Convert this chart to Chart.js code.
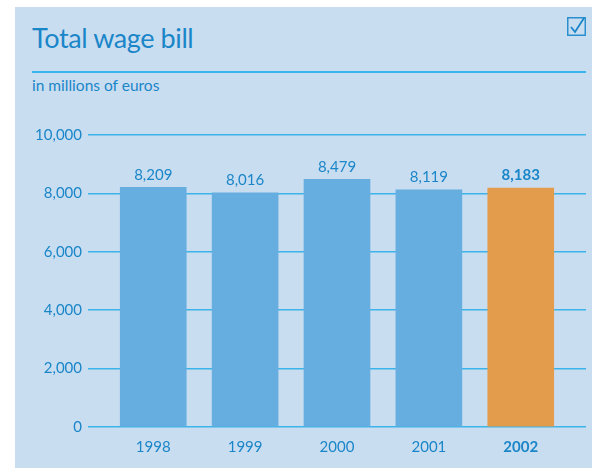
<!DOCTYPE html>
<html>
<head>
<meta charset="utf-8">
<script src="https://cdn.jsdelivr.net/npm/chart.js@4/dist/chart.umd.min.js"></script>
<style>
  html, body { margin: 0; padding: 0; background: #ffffff; }
  body { width: 592px; height: 469px; position: relative; overflow: hidden; font-family: Lato, "Open Sans", sans-serif; }
  #panel { position: absolute; left: 15px; top: 7px; width: 577px; height: 461px; background: #c9ddf1; }
  #title { position: absolute; left: 32px; top: 21px; font-size: 27px; color: #1a86c8; white-space: nowrap; letter-spacing: -0.4px; }
  #rule { position: absolute; left: 32px; top: 71px; width: 554px; height: 2px; background: #38b6ec; }
  #subtitle { position: absolute; left: 32px; top: 76px; font-size: 15.5px; color: #1a86c8; white-space: nowrap; }
  #check { position: absolute; left: 567px; top: 17px; width: 19px; height: 19px; }
  #chartBox { position: absolute; left: 0; top: 0; width: 592px; height: 469px; }
</style>
</head>
<body>
<div id="panel"></div>
<div id="title">Total wage bill</div>
<div id="rule"></div>
<div id="subtitle">in millions of euros</div>
<svg id="check" viewBox="0 0 19 19">
  <rect x="0.75" y="0.75" width="17.5" height="17.5" fill="none" stroke="#2a8fce" stroke-width="1.5"/>
  <path d="M4 10 L8 15 L17 1" fill="none" stroke="#1a86c8" stroke-width="1.8"/>
</svg>
<div id="chartBox"><canvas id="chart" width="592" height="469"></canvas></div>
<script>
// Total wage bill, millions of euros
const years = ['1998', '1999', '2000', '2001', '2002'];
const wages = [8209, 8016, 8479, 8119, 8183];
const highlightYear = '2002';
const yTicks = [0, 2000, 4000, 6000, 8000, 10000];

const textBlue = '#1a86c8';
const barBlue = '#67aee0';
const barOrange = '#e39c4b';
const gridBlue = '#3cb4ea';

const fmt = v => v.toLocaleString('en-US');
const isHighlight = i => years[i] === highlightYear;

// Value labels above each bar, taken from the bar's own data
const valueLabels = {
  id: 'valueLabels',
  afterDatasetsDraw(chart) {
    const ctx = chart.ctx;
    const meta = chart.getDatasetMeta(0);
    ctx.save();
    ctx.textAlign = 'center';
    ctx.textBaseline = 'bottom';
    ctx.fillStyle = textBlue;
    meta.data.forEach((bar, i) => {
      ctx.font = (isHighlight(i) ? 'bold ' : '') + '15px Lato, "Open Sans", sans-serif';
      ctx.fillText(fmt(wages[i]), bar.x, bar.y - 5);
    });
    ctx.restore();
  }
};

new Chart(document.getElementById('chart'), {
  type: 'bar',
  data: {
    datasets: [{
      data: years.map((y, i) => ({ x: i, y: wages[i] })),
      backgroundColor: years.map((y, i) => isHighlight(i) ? barOrange : barBlue),
      borderWidth: 0,
      barThickness: 66
    }]
  },
  options: {
    responsive: false,
    animation: false,
    devicePixelRatio: 1,
    layout: { padding: { left: 0, right: 6, top: 135, bottom: 0 } },
    plugins: { legend: { display: false }, tooltip: { enabled: false }, title: { display: false } },
    scales: {
      x: {
        type: 'linear',
        offset: false,
        min: -0.71,
        max: 4.71,
        grid: { display: false, offset: false },
        border: { display: false },
        afterBuildTicks: scale => { scale.ticks = years.map((y, i) => ({ value: i })); },
        afterFit: scale => { scale.height = 42; },
        ticks: {
          padding: 3,
          color: textBlue,
          font: ctx => ({ family: 'Lato, "Open Sans", sans-serif', size: 15, weight: (ctx.tick && isHighlight(ctx.tick.value)) ? 'bold' : 'normal' }),
          callback: v => years[v]
        }
      },
      y: {
        min: 0,
        max: 10000,
        afterBuildTicks: scale => { scale.ticks = yTicks.map(v => ({ value: v })); },
        afterFit: scale => { scale.width = 88; },
        grid: { color: gridBlue, lineWidth: 1.5, drawTicks: false },
        border: { display: false },
        ticks: {
          padding: 6,
          color: textBlue,
          font: { family: 'Lato, "Open Sans", sans-serif', size: 15 },
          callback: v => fmt(v)
        }
      }
    }
  },
  plugins: [valueLabels]
});
</script>
</body>
</html>
